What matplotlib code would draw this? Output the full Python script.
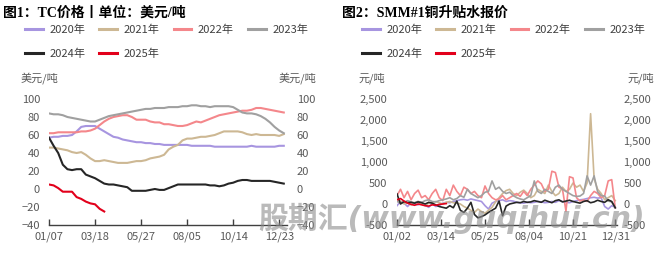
import numpy as np
import matplotlib
matplotlib.use("Agg")
import matplotlib.pyplot as plt
from matplotlib.ticker import FuncFormatter

plt.rcParams['font.family'] = ['Noto Sans CJK SC', 'DejaVu Sans']

years = ["2020年", "2021年", "2022年", "2023年", "2024年", "2025年"]
colors = ["#A795E0", "#CDB894", "#F4878B", "#A0A0A0", "#262626", "#E2001B"]

# 图1 TC价格（周度）
tc_ticks = ["01/07", "03/18", "05/27", "08/05", "10/14", "12/23"]
tc_2020 = [57, 58, 58, 59, 59, 60, 64, 69, 70, 70, 70, 67, 64, 61, 58, 57, 55, 54, 53, 52,
           52, 51, 51, 50, 50, 49, 49, 49, 49, 49, 49, 48, 48, 48, 48, 48, 47, 47, 47, 47,
           47, 47, 47, 47, 48, 47, 47, 47, 47, 47, 48, 48]
tc_2021 = [46, 46, 45, 44, 43, 41, 40, 41, 38, 34, 31, 31, 32, 31, 30, 29, 29, 29, 30, 31,
           31, 32, 34, 35, 36, 38, 44, 47, 49, 54, 56, 56, 57, 58, 58, 59, 60, 62, 64, 64,
           64, 64, 63, 61, 60, 61, 60, 60, 60, 60, 59, 61]
tc_2022 = [62, 62, 63, 63, 63, 63, 63, 64, 64, 65, 67, 71, 75, 78, 80, 81, 82, 82, 80, 77,
           77, 77, 75, 74, 74, 72, 72, 71, 70, 70, 71, 73, 75, 74, 76, 78, 80, 82, 83, 84,
           85, 86, 87, 87, 88, 90, 90, 89, 88, 87, 86, 85]
tc_2023 = [84, 83, 83, 82, 80, 79, 78, 77, 76, 75, 75, 77, 79, 81, 82, 83, 84, 85, 86, 87,
           88, 89, 89, 90, 90, 90, 91, 91, 91, 92, 92, 93, 93, 92, 92, 91, 92, 92, 92, 92,
           91, 88, 85, 84, 84, 83, 81, 78, 74, 69, 65, 62]
tc_2024 = [57, 48, 40, 27, 22, 21, 22, 22, 16, 14, 12, 9, 6, 5, 5, 4, 3, 2, -2, -2,
           -2, -2, -1, 0, -1, -1, 1, 3, 5, 5, 5, 5, 5, 5, 5, 4, 4, 3, 4, 6,
           7, 9, 10, 10, 9, 9, 9, 9, 9, 8, 7, 6]
tc_2025 = [5, 4, 1, -3, -3, -3, -9, -11, -14, -16, -17, -22, -25]

# 图2 SMM#1铜升贴水（每4个交易日取一个点）
smm_ticks = ["01/02", "03/14", "05/25", "08/04", "10/21", "12/31"]
smm_2020 = [-40, 60, 20, -60, 30, 0, -20, 40, -30, -80, 10, -60, -40,
            20, 40, 30, 60, 80, 100, 110, 90, 120, 100, 80, 60, -40,
            -120, 20, 60, 80, 100, 60, 80, 70, 40, 30, 20, 40,
            30, 40, 60, 50, 30, 40, 60, 40, 80, 60, 40, 30, 60,
            80, 100, 110, 130, 150, 160, 140, 150, -60, -120, -40, -80]
smm_2021 = [120, 60, 0, 40, -20, 30, 60, 0, -40, 20, 40, 60, 30,
            0, 40, 60, 30, 20, 0, -60, -100, -150, -200, -120, -180, -220,
            -150, -80, 50, 150, 250, 320, 350, 250, 200, 280, 330, 250,
            150, 200, 350, 300, 250, 450, 300, 200, 250, 400, 300, 350, 500,
            400, 450, 300, 500, 2150, 600, 350, 250, 100, 150, 200, 80]
smm_2022 = [200, 350, 150, 300, 100, 250, 330, 150, 200, 100, 250, 350, 150,
            80, 350, 200, 450, 300, 200, 400, 350, 250, 300, 200, 150, 430,
            250, 150, 100, 120, 200, 100, 150, 200, 250, 180, 300, 200,
            350, 450, 550, 480, 300, 350, 780, 750, 400, 360, -170, 650, 620,
            150, 70, 100, 60, 200, 300, 250, 150, 200, 550, 580, -90]
smm_2023 = [60, 20, 40, 80, 50, 30, 60, 40, 80, 100, 60, 50, 80,
            100, 120, 150, 100, 130, 200, 160, 350, 250, 200, 150, 200, 280,
            300, 550, 350, 400, 300, 250, 280, 200, 150, 120, 100, 150,
            200, 550, 300, 250, 350, 300, 250, 400, 450, 350, 300, 250, 200,
            180, 190, 250, 670, 450, 670, 290, 200, 190, 70, 50, -90]
smm_2024 = [240, 0, 60, 30, 40, 20, 50, 30, 0, 40, 20, -20, -60,
            -80, -100, -40, -90, 70, -150, -200, -100, 40, -250, -330, -300, -260,
            -200, -150, -100, 70, -280, -50, 0, 20, 40, 30, 60, 40,
            50, 80, 60, 40, 90, 60, 30, 80, 100, 50, 70, 90, 60,
            40, 20, 60, 80, 30, 50, 90, 60, 40, 100, 60, -90]
smm_2025 = [100, 130, 70, 20, -10, -30, 0, -20, -40, -50, -20, -30, -10, 0, 10]

tc_data = [tc_2020, tc_2021, tc_2022, tc_2023, tc_2024, tc_2025]
smm_data = [smm_2020, smm_2021, smm_2022, smm_2023, smm_2024, smm_2025]

W, H = 661, 254
fig = plt.figure(figsize=(W / 100, H / 100), dpi=100)

grey_txt = "#595959"


def style_axes(ax, ylim, yticks, xlim, xticks, xlabels, lpad, rpad, fmt=None):
    ax.set_xlim(*xlim)
    ax.set_ylim(*ylim)
    ax.set_yticks(yticks)
    if fmt:
        ax.yaxis.set_major_formatter(FuncFormatter(fmt))
    ax.set_xticks(xticks, xlabels)
    for s in ["top", "left", "right"]:
        ax.spines[s].set_visible(False)
    ax.spines["bottom"].set_color("#404040")
    ax.spines["bottom"].set_linewidth(1.0)
    ax.tick_params(axis="x", direction="in", length=4, width=1, color="#404040",
                   labelsize=8, labelcolor=grey_txt, pad=5)
    ax.tick_params(axis="y", length=0, labelsize=8, labelcolor=grey_txt, pad=lpad)
    ax.patch.set_alpha(0)
    ax2 = ax.twinx()
    ax2.set_ylim(*ylim)
    ax2.set_yticks(yticks)
    if fmt:
        ax2.yaxis.set_major_formatter(FuncFormatter(fmt))
    for s in ax2.spines.values():
        s.set_visible(False)
    ax2.tick_params(axis="y", length=0, labelsize=8, labelcolor=grey_txt, pad=rpad)
    return ax2


def legend(ax, x, y):
    # 按行排列：matplotlib按列填充，所以调一下顺序
    order = [0, 4, 1, 5, 2, 3]
    handles = [plt.Line2D([], [], color=colors[i], lw=2.2) for i in order]
    labels = [years[i] for i in order]
    ax.legend(handles, labels, ncol=4, loc="upper left", bbox_to_anchor=(x, y),
              bbox_transform=fig.transFigure, frameon=False, fontsize=8,
              handlelength=1.6, handletextpad=0.6, columnspacing=1.25,
              labelspacing=1.15, borderaxespad=0, borderpad=0,
              labelcolor="#404040")


# 左图
ax1 = fig.add_axes([49 / W, 1 - 225 / H, 238 / W, 126 / H])
for vals, c in zip(tc_data, colors):
    ax1.plot(np.arange(len(vals)), vals, color=c, lw=1.5, solid_joinstyle="round")
style_axes(ax1, (-40, 100), np.arange(-40, 101, 20), (0, 51.7),
           np.arange(0, 51, 10), tc_ticks, 6.5, 7)
legend(ax1, 25 / W, 1 - 25 / H)
fig.text(3 / W, 1 - 13 / H, "图1：TC价格丨单位：美元/吨", fontsize=10, weight="bold",
         family=["Liberation Serif", "Noto Sans CJK SC"], va="center", ha="left")
fig.text(39 / W, 1 - 78 / H, "美元/吨", fontsize=8, color=grey_txt, ha="center", va="center")
fig.text(297 / W, 1 - 78 / H, "美元/吨", fontsize=8, color=grey_txt, ha="center", va="center")

# 右图
ax3 = fig.add_axes([397 / W, 1 - 225 / H, 220 / W, 126 / H])
for vals, c in zip(smm_data, colors):
    ax3.plot(np.arange(len(vals)) * 4, vals, color=c, lw=1.2, solid_joinstyle="round")
style_axes(ax3, (-500, 2500), np.arange(-500, 2501, 500), (0, 250),
           [0, 50, 100, 150, 200, 248], smm_ticks, 7, 4.5,
           fmt=lambda v, p: f"{int(v):,}")
legend(ax3, 362 / W, 1 - 25 / H)
fig.text(342 / W, 1 - 13 / H, "图2：SMM#1铜升贴水报价", fontsize=10, weight="bold",
         family=["Liberation Serif", "Noto Sans CJK SC"], va="center", ha="left")
fig.text(372 / W, 1 - 78 / H, "元/吨", fontsize=8, color=grey_txt, ha="center", va="center")
fig.text(641 / W, 1 - 78 / H, "元/吨", fontsize=8, color=grey_txt, ha="center", va="center")

# 水印
fig.text(452 / W, 1 - 218 / H, "股期汇(www.guqihui.cn)", fontsize=21.5, weight="bold",
         style="oblique", family=["DejaVu Sans", "Noto Sans CJK SC"],
         color="#8c8c8c", alpha=0.6, ha="center", va="center", zorder=10)

fig.savefig("out.png", dpi=100)
